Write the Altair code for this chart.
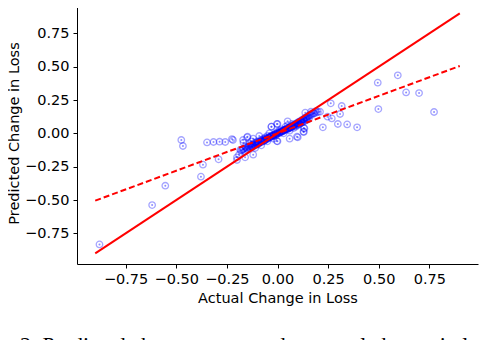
import altair as alt
import pandas as pd

# Scatter points: actual change (x) vs predicted change (y)
actual = [
    -0.879, -0.619, -0.554, -0.378, -0.368, -0.475, -0.467, -0.348, -0.316, -0.286,
    -0.258, -0.225, -0.220, -0.291, -0.200, -0.184, -0.168, -0.148,
    0.495, 0.594, 0.635, 0.699, 0.498, 0.773, 0.263, 0.317, 0.309, 0.268, 0.247,
    0.224, 0.298, 0.344, 0.393, 0.137, 0.165, 0.189, 0.210, 0.096, 0.128, 0.133,
    -0.003, -0.003, -0.030,
    -0.20, -0.19, -0.18, -0.17, -0.16, -0.15, -0.15, -0.14, -0.13, -0.13,
    -0.12, -0.12, -0.11, -0.11, -0.10, -0.10, -0.09, -0.09, -0.08, -0.08,
    -0.07, -0.07, -0.06, -0.06, -0.05, -0.05, -0.04, -0.04, -0.03, -0.03,
    -0.02, -0.02, -0.01, -0.01, 0.00, 0.00, 0.00, 0.01, 0.01, 0.02, 0.02,
    0.03, 0.03, 0.04, 0.04, 0.05, 0.05, 0.06, 0.06, 0.07, 0.07, 0.08, 0.08,
    0.09, 0.09, 0.10, 0.10, 0.11, 0.11, 0.12, 0.12, 0.13, 0.14, 0.15, 0.16,
    0.17, 0.10, 0.13, 0.13, 0.06, -0.12, -0.17, -0.16, 0.05,
    # dense band along the lines
    -0.175, -0.165, -0.155, -0.145, -0.135, -0.125, -0.115, -0.105, -0.095, -0.085,
    -0.075, -0.065, -0.055, -0.045, -0.035, -0.025, -0.015, -0.005, 0.005, 0.015,
    0.025, 0.035, 0.045, 0.055, 0.065, 0.075, 0.085, 0.095, 0.105, 0.115,
    0.125, 0.135, 0.145, 0.155, -0.14, -0.11, -0.08, -0.05, -0.02, 0.01,
    0.04, 0.07, 0.10, 0.13, -0.125, -0.095, -0.065, -0.035, -0.005, 0.025,
    0.055, 0.085, 0.115, 0.145, 0.18, 0.19, 0.20,
    -0.15, -0.13, -0.11, -0.09, -0.07, -0.05, -0.03, -0.01, 0.01, 0.03,
    0.05, 0.07, 0.09, 0.11, 0.13, 0.15, 0.17, -0.16, -0.12, -0.08,
    -0.04, 0.00, 0.04, 0.08, 0.12, 0.16, -0.10, -0.06, -0.02, 0.02,
    0.06, 0.10, 0.14, 0.18,
]
predicted = [
    -0.833, -0.538, -0.393, -0.325, -0.235, -0.050, -0.095, -0.068, -0.065, -0.063,
    -0.065, -0.043, -0.050, -0.195, -0.180, -0.125, -0.070, -0.025,
    0.380, 0.435, 0.307, 0.302, 0.182, 0.160, 0.225, 0.205, 0.145, 0.112, 0.125,
    0.045, 0.070, 0.067, 0.045, 0.155, 0.162, 0.167, 0.162, -0.025, 0.012, 0.037,
    -0.058, 0.070, 0.050,
    -0.20, -0.16, -0.13, -0.12, -0.10, -0.03, -0.11, -0.08, -0.10, -0.06,
    -0.09, -0.04, -0.07, -0.11, -0.06, -0.08, -0.02, -0.07, -0.05, -0.09,
    -0.04, -0.06, -0.03, -0.05, -0.02, -0.06, -0.03, 0.00, -0.02, 0.05,
    -0.01, -0.04, 0.00, -0.02, 0.01, -0.06, 0.07, 0.00, 0.02, 0.01, 0.03,
    0.02, 0.00, 0.03, 0.05, 0.03, 0.06, 0.04, 0.02, 0.05, 0.07, 0.06, 0.04,
    0.07, 0.05, 0.08, 0.06, 0.09, 0.07, 0.10, 0.08, 0.11, 0.12, 0.13, 0.14,
    0.15, -0.03, 0.01, 0.04, -0.04, -0.16, -0.05, -0.18, 0.09,
    -0.125, -0.115, -0.105, -0.100, -0.092, -0.085, -0.078, -0.070, -0.064, -0.057,
    -0.050, -0.044, -0.037, -0.030, -0.024, -0.018, -0.010, -0.004, 0.003, 0.010,
    0.016, 0.023, 0.030, 0.036, 0.043, 0.050, 0.057, 0.064, 0.070, 0.078,
    0.085, 0.092, 0.100, 0.108, -0.110, -0.085, -0.062, -0.040, -0.016, 0.006,
    0.028, 0.050, 0.075, 0.100, -0.100, -0.078, -0.056, -0.030, -0.008, 0.018,
    0.040, 0.064, 0.088, 0.112, 0.150, 0.155, 0.160,
    -0.120, -0.100, -0.090, -0.072, -0.056, -0.040, -0.024, -0.008, 0.008, 0.024,
    0.040, 0.056, 0.072, 0.088, 0.104, 0.122, 0.140, -0.135, -0.098, -0.066,
    -0.034, 0.000, 0.032, 0.064, 0.096, 0.132, -0.085, -0.050, -0.018, 0.016,
    0.048, 0.082, 0.115, 0.150,
]

# Reference lines
line_x = [-0.9, 0.9]
identity_y = [-0.9, 0.9]
fit_y = [-0.505, 0.505]

tick_values = [-0.75, -0.5, -0.25, 0.0, 0.25, 0.5, 0.75]
x_title = "Actual Change in Loss"
y_title = "Predicted Change in Loss"
caption = ["2: Predicted change compared to actual change in loss using conditi"]

pts = pd.DataFrame({"x": actual, "y": predicted})
lines = pd.DataFrame({"x": line_x, "y": identity_y})
fit = pd.DataFrame({"x": line_x, "y": fit_y})
cap = pd.DataFrame({"t": caption})

xs = alt.Scale(domain=[-0.99, 0.99], nice=False, zero=False)
ys = alt.Scale(domain=[-0.98, 0.985], nice=False, zero=False)

xax = alt.Axis(values=tick_values, format=".2f", title=x_title, grid=False)
yax = alt.Axis(values=tick_values, format=".2f", title=y_title, grid=False)

ring = alt.Chart(pts).mark_point(
    shape="circle", filled=False, size=42, strokeWidth=1.3, color="#0000ff", opacity=0.35
).encode(x=alt.X("x:Q", scale=xs, axis=xax), y=alt.Y("y:Q", scale=ys, axis=yax))

dot = alt.Chart(pts).mark_circle(size=4, color="#0000ff", opacity=0.45).encode(
    x=alt.X("x:Q", scale=xs), y=alt.Y("y:Q", scale=ys)
)

ident = alt.Chart(lines).mark_line(color="#ff0000", strokeWidth=2).encode(
    x=alt.X("x:Q", scale=xs), y=alt.Y("y:Q", scale=ys)
)
fitl = alt.Chart(fit).mark_line(color="#ff0000", strokeWidth=2, strokeDash=[6, 3]).encode(
    x=alt.X("x:Q", scale=xs), y=alt.Y("y:Q", scale=ys)
)

captext = alt.Chart(cap).mark_text(
    font="Liberation Serif", fontSize=22, align="left", baseline="top", color="black"
).encode(x=alt.value(-57), y=alt.value(333), text="t:N")

chart = alt.layer(ring, dot, ident, fitl, captext).properties(
    width=401, height=262,
    autosize=alt.AutoSizeParams(type="none"),
    padding={"left": 69, "top": -6, "right": 12, "bottom": 76},
).configure_view(stroke=None).configure_axis(
    domainColor="black", tickColor="black", tickSize=4, domainWidth=1, tickWidth=1,
    labelFont="DejaVu Sans", titleFont="DejaVu Sans", labelFontSize=14.5, titleFontSize=14.5,
    labelColor="black", titleColor="black", titleFontWeight="normal", labelPadding=4,
).configure_axisX(titlePadding=6).configure_axisY(titlePadding=3)

chart.save("out.html", embed_options={"renderer": "svg", "actions": False})
